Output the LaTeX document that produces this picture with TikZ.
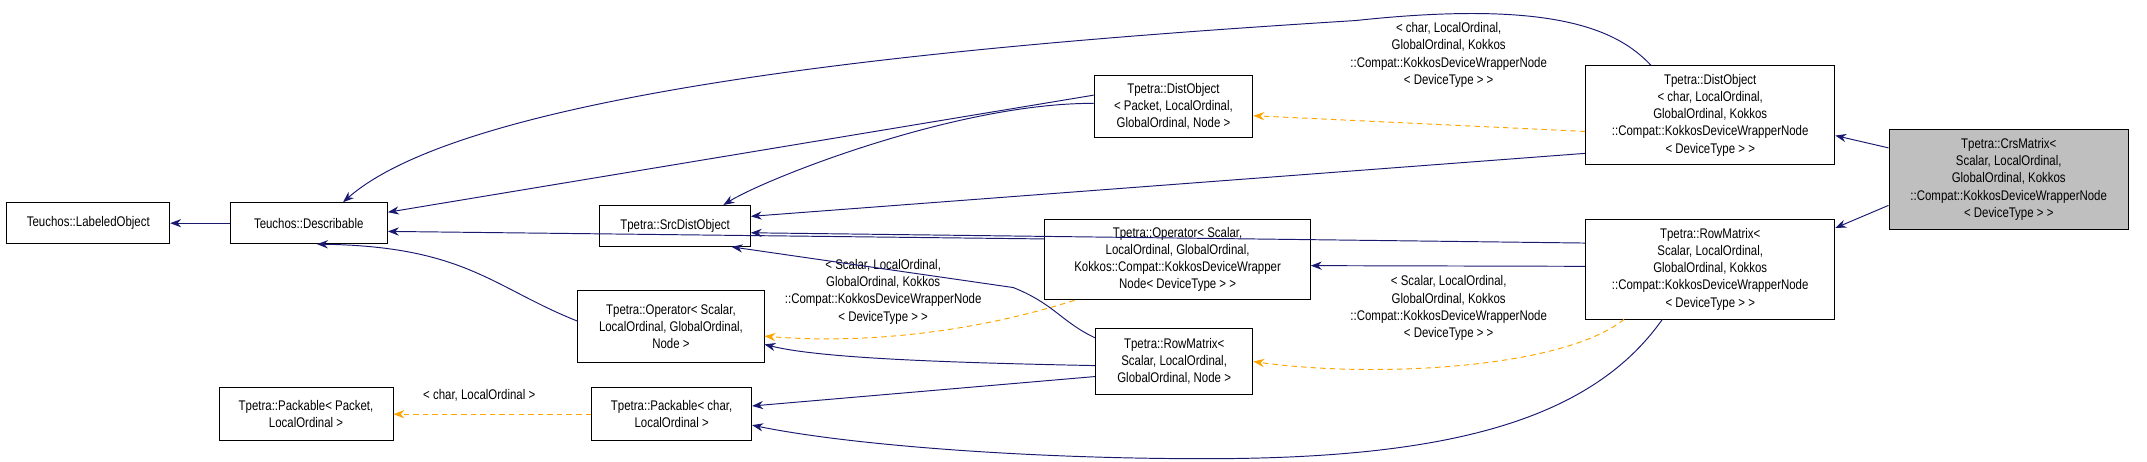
\documentclass[tikz,border=0pt]{standalone}
\usepackage{fontspec}
\setmainfont{Liberation Sans}[FakeStretch=0.82]
\usetikzlibrary{arrows.meta}
\begin{document}
\begin{tikzpicture}[x=1pt,y=-1pt,
  box/.style={draw,line width=0.6pt,align=center,font=\fontsize{10.2}{12.6}\selectfont,inner sep=0pt,minimum width=#1},
  box/.default=100pt,
  inh/.style={draw={rgb,255:red,25;green,25;blue,112},line width=0.7pt,-{Stealth[length=8pt,width=6pt]}},
  tpl/.style={draw={rgb,255:red,255;green,165;blue,0},line width=0.7pt,dash pattern=on 4pt off 3pt,-{Stealth[length=8pt,width=6pt]}},
  lbl/.style={align=center,font=\fontsize{10.2}{12.6}\selectfont}]
\useasboundingbox (0,0) rectangle (1568,337);
\node[box=119pt,minimum height=30pt] (lab) at (64.5,163) {Teuchos::LabeledObject};
\node[box=115pt,minimum height=30pt] (des) at (225.5,163) {Teuchos::Describable};
\node[box=110pt,minimum height=30pt] (src) at (493,165) {Tpetra::SrcDistObject};
\node[box=116pt,minimum height=45pt] (dop) at (857,77.5) {Tpetra::DistObject\\< Packet, LocalOrdinal,\\GlobalOrdinal, Node >};
\node[box=182pt,minimum height=72pt] (doc) at (1249,84) {Tpetra::DistObject\\< char, LocalOrdinal,\\GlobalOrdinal, Kokkos\\::Compat::KokkosDeviceWrapperNode\\< DeviceType > >};
\node[box=175pt,minimum height=73pt,fill={rgb,255:red,191;green,191;blue,191}] (crs) at (1467,131) {Tpetra::CrsMatrix<\\Scalar, LocalOrdinal,\\GlobalOrdinal, Kokkos\\::Compat::KokkosDeviceWrapperNode\\< DeviceType > >};
\node[box=182pt,minimum height=73pt] (rmk) at (1249,196.5) {Tpetra::RowMatrix<\\Scalar, LocalOrdinal,\\GlobalOrdinal, Kokkos\\::Compat::KokkosDeviceWrapperNode\\< DeviceType > >};
\node[box=194pt,minimum height=59pt] (opk) at (860,189.5) {Tpetra::Operator< Scalar,\\LocalOrdinal, GlobalOrdinal,\\Kokkos::Compat::KokkosDeviceWrapper\\Node< DeviceType > >};
\node[box=136pt,minimum height=53pt] (opn) at (490,238.5) {Tpetra::Operator< Scalar,\\LocalOrdinal, GlobalOrdinal,\\Node >};
\node[box=115pt,minimum height=48pt] (rmn) at (857.5,264) {Tpetra::RowMatrix<\\Scalar, LocalOrdinal,\\GlobalOrdinal, Node >};
\node[box=127pt,minimum height=39pt] (pkp) at (223.5,302.5) {Tpetra::Packable< Packet,\\LocalOrdinal >};
\node[box=117pt,minimum height=39pt] (pkc) at (490.5,302.5) {Tpetra::Packable< char,\\LocalOrdinal >};
% edges
\draw[inh] (des) -- (lab);
\draw[inh] (doc.north west) ++(48,0) .. controls (1180,20) and (1130,0) .. (990,15) .. controls (750,30) and (350,60) .. ([xshift=25pt]des.north);
\draw[inh] (dop.west) ++(0,-8) -- ([yshift=8pt]des.east);
\draw[inh] (dop.west) ++(0,-2) .. controls (700,75) and (560,130) .. ([xshift=-20pt]src.north east);
\draw[inh] (doc.west) ++(0,28) -- ([yshift=7pt]src.east);
\draw[tpl] (doc.west) ++(0,12) -- ([yshift=-7pt]dop.east);
\node[lbl] (l1) at (1058,40) {< char, LocalOrdinal,\\GlobalOrdinal, Kokkos\\::Compat::KokkosDeviceWrapperNode\\< DeviceType > >};
\draw[inh] (crs.west) ++(0,-23) -- ([yshift=-15pt]doc.east);
\draw[inh] (crs.west) ++(0,19) -- ([yshift=30pt]rmk.east);
\draw[inh] (rmk.west) ++(0,-19) -- ([yshift=-5pt]src.east);
\draw[inh] (opk.west) ++(0,-15) -- ([yshift=-6pt]des.east);
\draw[inh] (rmk.west) ++(0,-2) -- ([yshift=-4.5pt]opk.east);
\draw[tpl] (rmk.south) ++(-63,0) .. controls (1140,270) and (1000,276) .. (rmn.east);
\node[lbl] (l2) at (1058,225) {< Scalar, LocalOrdinal,\\GlobalOrdinal, Kokkos\\::Compat::KokkosDeviceWrapperNode\\< DeviceType > >};
\draw[inh] (rmk.south) ++(-35,0) .. controls (1160,310) and (1050,335) .. (880,335) .. controls (750,335) and (620,325) .. ([yshift=-8pt]pkc.east);
\draw[inh] (opn.west) ++(0,-4) .. controls (360,210) and (340,180) .. ([xshift=6pt]des.south);
\draw[tpl] (opk.south west) ++(22,0) .. controls (720,240) and (640,252) .. ([yshift=-7pt]opn.east);
\node[lbl] (l3) at (645,213) {< Scalar, LocalOrdinal,\\GlobalOrdinal, Kokkos\\::Compat::KokkosDeviceWrapperNode\\< DeviceType > >};
\draw[inh] (rmn.west) ++(0,3) .. controls (700,265) and (600,262) .. ([yshift=-13pt]opn.east);
\draw[inh] (rmn.north west) ++(0,7) .. controls (775,235) and (770,222) .. (740,210) -- ([xshift=-14pt]src.south east);
\draw[inh] (rmn.west) ++(0,11) -- ([yshift=6pt]pkc.east);
\draw[tpl] (pkc.west) -- (pkp.east);
\node[lbl] (l4) at (350,289) {< char, LocalOrdinal >};
\end{tikzpicture}
\end{document}
